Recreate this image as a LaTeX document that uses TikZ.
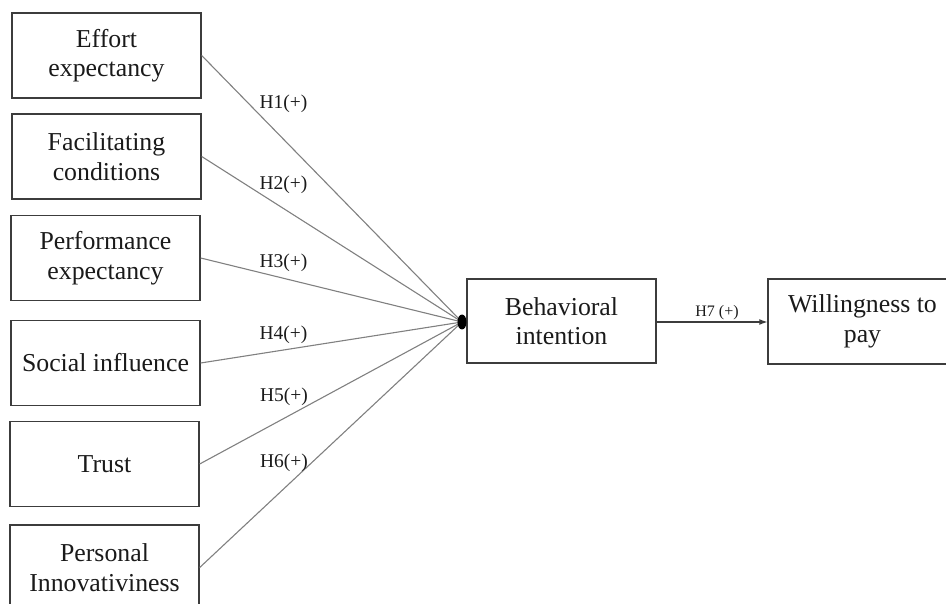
\documentclass[tikz,border=0pt]{standalone}
\usepackage{fontspec}
\setmainfont{Liberation Serif}
\usetikzlibrary{arrows.meta}
\definecolor{boxline}{HTML}{3C3C3C}
\definecolor{pathline}{HTML}{808080}
\definecolor{ink}{HTML}{1A1A1A}
\begin{document}
\begin{tikzpicture}[x=1pt,y=-1pt,
  construct/.style={draw=boxline, line width=1.4pt, rectangle,
    minimum width=189pt, minimum height=85pt, inner sep=0pt,
    align=center, text=ink, font=\fontsize{25.8}{29.5}\selectfont},
  path line/.style={draw=pathline, line width=1.1pt},
  hyp/.style={inner sep=0pt, text=ink, font=\fontsize{19.5}{22}\selectfont},
  hypsmall/.style={inner sep=0pt, text=ink, font=\fontsize{16}{19}\selectfont}]
  \useasboundingbox (0,0) rectangle (946,604);
  \clip (0,0) rectangle (946,604);

  % predictors
  \node[construct] (ee) at (106.5,55.5) {Effort\\expectancy};
  \node[construct] (fc) at (106.5,156.5) {Facilitating\\conditions};
  \node[construct] (pe) at (105.5,258) {Performance\\expectancy};
  \node[construct] (si) at (105.5,363) {Social influence};
  \node[construct] (tr) at (104.5,464) {Trust};
  \node[construct] (pi) at (104.5,567.5) {Personal\\Innovativiness};

  % outcomes
  \node[construct, minimum height=84pt] (bi) at (561.5,321) {Behavioral\\intention};
  \node[construct] (wtp) at (862.5,321.5) {Willingness to\\pay};

  % common arrival point of the hypothesised paths
  \coordinate (hub) at (462,322);
  \foreach \src in {ee,fc,pe,si,tr,pi}
    \draw[path line] (\src.east) -- (hub);
  \fill[black] (hub) ellipse [x radius=4.5pt, y radius=7.5pt];

  \draw[draw=boxline, line width=1.1pt, -{Latex[length=8pt,width=6pt]}]
    (bi.east |- hub) -- (wtp.west |- hub);

  % hypothesis labels
  \node[hyp] (h1) at (283.5,104) {H1(+)};
  \node[hyp] (h2) at (283.5,185) {H2(+)};
  \node[hyp] (h3) at (283.5,263) {H3(+)};
  \node[hyp] (h4) at (283.5,335) {H4(+)};
  \node[hyp] (h5) at (284,397) {H5(+)};
  \node[hyp] (h6) at (284,463) {H6(+)};
  \node[hypsmall] (h7) at (717,313) {H7 (+)};
\end{tikzpicture}
\end{document}
